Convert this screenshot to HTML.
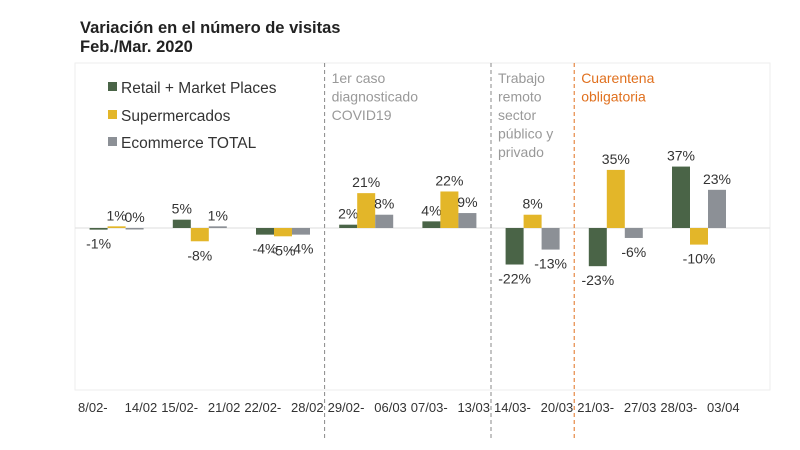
<!DOCTYPE html>
<html><head><meta charset="utf-8"><style>
body{margin:0;background:#fff;width:800px;height:450px;overflow:hidden;font-family:"Liberation Sans",sans-serif}
svg{display:block}
</style></head><body>
<svg id="c" width="800" height="450" font-family="Liberation Sans, sans-serif">
<text x="80" y="33" font-size="16.5" font-weight="bold" fill="#222">Variación en el número de visitas</text>
<text x="80" y="52" font-size="16.5" font-weight="bold" fill="#222">Feb./Mar. 2020</text>
<rect x="75" y="63" width="695" height="327" fill="none" stroke="#eee"/>
<g>
<rect x="108" y="82" width="9" height="9" fill="#4a6447"/>
<text x="121" y="93" font-size="15.5" fill="#333">Retail + Market Places</text>
<rect x="108" y="110" width="9" height="9" fill="#e3b629"/>
<text x="121" y="121" font-size="15.5" fill="#333">Supermercados</text>
<rect x="108" y="137" width="9" height="9" fill="#8c9096"/>
<text x="121" y="148" font-size="15.5" fill="#333">Ecommerce TOTAL</text>
</g>
</svg>
<script>
const categoriesStart=["8/02-","15/02-","22/02-","29/02-","07/03-","14/03-","21/03-","28/03-"];
const categoriesEnd=["14/02","21/02","28/02","06/03","13/03","20/03","27/03","03/04"];
const retail=[-1,5,-4,2,4,-22,-23,37];
const supermercados=[1,-8,-5,21,22,8,35,-10];
const ecommerce=[0,1,-4,8,9,-13,-6,23];
const seriesNames=["retail","supermercados","ecommerce"];
const colors=["#4a6447","#e3b629","#8c9096"];
const annotations=[{i:3,lines:["1er caso","diagnosticado","COVID19"],color:"#999",line:"#888"},{i:5,lines:["Trabajo","remoto","sector","público y","privado"],color:"#999",line:"#888"},{i:6,lines:["Cuarentena","obligatoria"],color:"#e0701e",line:"#e0701e"}];
const svg=document.getElementById('c');const NS="http://www.w3.org/2000/svg";
const x0=75,gw=83.2,zeroY=228,k=1.66,bw=18;
const xg=i=>x0+gw*i;const y=v=>zeroY-v*k;
function mk(t,a){const e=document.createElementNS(NS,t);for(const n in a)e.setAttribute(n,a[n]);svg.appendChild(e);return e;}
let zl=mk('line',{x1:x0,x2:770,y1:zeroY,y2:zeroY,stroke:'#ddd'});


annotations.forEach(a=>{
 const l=mk('line',{x1:xg(a.i),x2:xg(a.i),y1:63,y2:440,stroke:a.line,'stroke-dasharray':'4,3'});
 
 
 a.lines.forEach((s,j)=>{const t=mk('text',{x:xg(a.i)+7,y:83+j*18.5,'font-size':14,fill:a.color});t.textContent=s;
 
 });
});
[retail,supermercados,ecommerce].forEach((arr,s)=>{
 arr.forEach((v,i)=>{
  const cx=xg(i)+gw/2+(s-1)*bw;
  const r=mk('rect',{x:cx-bw/2,y:Math.min(y(v),zeroY),width:bw,height:Math.max(Math.abs(y(v)-zeroY),1.5),fill:colors[s]});
  
  
  const t=mk('text',{x:cx,y:v>=0?y(v)-6:y(v)+19,'font-size':14,fill:'#333','text-anchor':'middle'});
  t.textContent=v+'%';
  
  
 });
});
categoriesStart.forEach((c,i)=>{
 const a=mk('text',{x:xg(i)+3,y:412,'font-size':13,fill:'#333'});a.textContent=c;
 
 
 const b=mk('text',{x:xg(i+1)-1,y:412,'font-size':13,fill:'#333','text-anchor':'end'});b.textContent=categoriesEnd[i];
 
 
});
</script>
</body></html>
